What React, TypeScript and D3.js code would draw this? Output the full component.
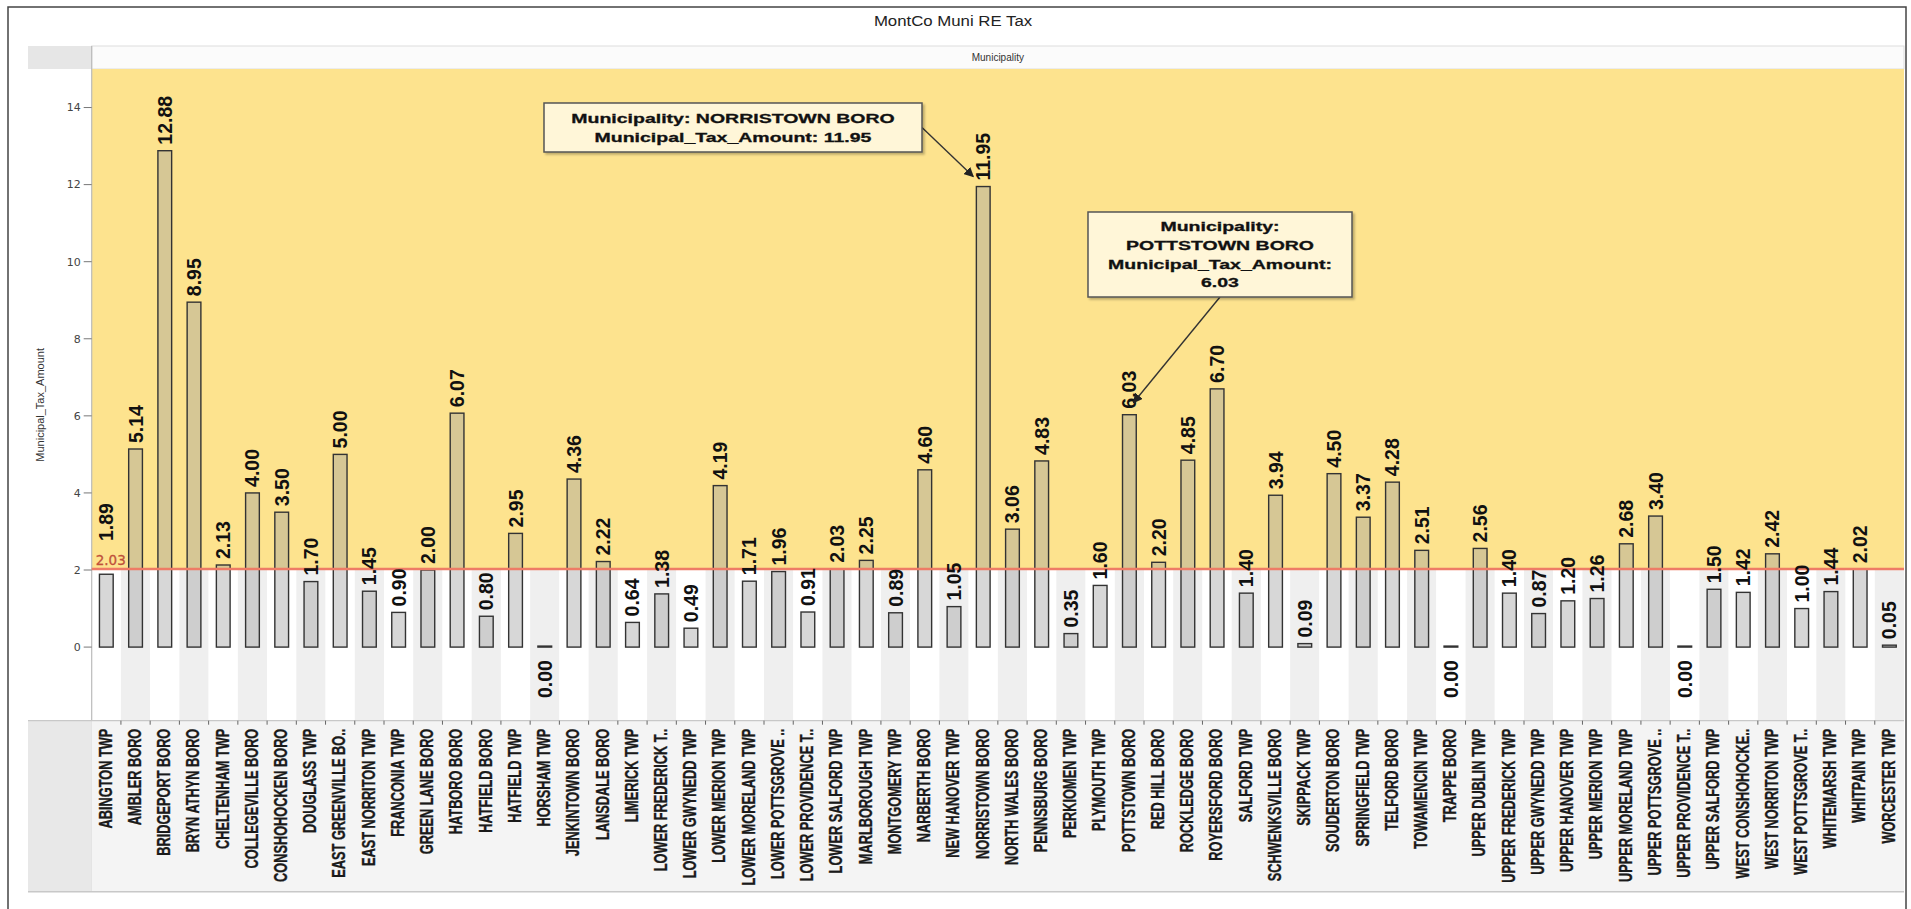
import React from "react";
import * as d3 from "d3";

const municipalities: string[] = [
  "ABINGTON TWP", "AMBLER BORO", "BRIDGEPORT BORO", "BRYN ATHYN BORO", "CHELTENHAM TWP",
  "COLLEGEVILLE BORO", "CONSHOHOCKEN BORO", "DOUGLASS TWP", "EAST GREENVILLE BO..", "EAST NORRITON TWP",
  "FRANCONIA TWP", "GREEN LANE BORO", "HATBORO BORO", "HATFIELD BORO", "HATFIELD TWP",
  "HORSHAM TWP", "JENKINTOWN BORO", "LANSDALE BORO", "LIMERICK TWP", "LOWER FREDERICK T..",
  "LOWER GWYNEDD TWP", "LOWER MERION TWP", "LOWER MORELAND TWP", "LOWER POTTSGROVE ..", "LOWER PROVIDENCE T..",
  "LOWER SALFORD TWP", "MARLBOROUGH TWP", "MONTGOMERY TWP", "NARBERTH BORO", "NEW HANOVER TWP",
  "NORRISTOWN BORO", "NORTH WALES BORO", "PENNSBURG BORO", "PERKIOMEN TWP", "PLYMOUTH TWP",
  "POTTSTOWN BORO", "RED HILL BORO", "ROCKLEDGE BORO", "ROYERSFORD BORO", "SALFORD TWP",
  "SCHWENKSVILLE BORO", "SKIPPACK TWP", "SOUDERTON BORO", "SPRINGFIELD TWP", "TELFORD BORO",
  "TOWAMENCIN TWP", "TRAPPE BORO", "UPPER DUBLIN TWP", "UPPER FREDERICK TWP", "UPPER GWYNEDD TWP",
  "UPPER HANOVER TWP", "UPPER MERION TWP", "UPPER MORELAND TWP", "UPPER POTTSGROVE ..", "UPPER PROVIDENCE T..",
  "UPPER SALFORD TWP", "WEST CONSHOHOCKE..", "WEST NORRITON TWP", "WEST POTTSGROVE T..", "WHITEMARSH TWP",
  "WHITPAIN TWP", "WORCESTER TWP",
];

const taxAmounts: number[] = [
  1.89, 5.14, 12.88, 8.95, 2.13,
  4.0, 3.5, 1.7, 5.0, 1.45,
  0.9, 2.0, 6.07, 0.8, 2.95,
  0.0, 4.36, 2.22, 0.64, 1.38,
  0.49, 4.19, 1.71, 1.96, 0.91,
  2.03, 2.25, 0.89, 4.6, 1.05,
  11.95, 3.06, 4.83, 0.35, 1.6,
  6.03, 2.2, 4.85, 6.7, 1.4,
  3.94, 0.09, 4.5, 3.37, 4.28,
  2.51, 0.0, 2.56, 1.4, 0.87,
  1.2, 1.26, 2.68, 3.4, 0.0,
  1.5, 1.42, 2.42, 1.0, 1.44,
  2.02, 0.05,
];

const yTicks: number[] = [0, 2, 4, 6, 8, 10, 12, 14];
const chartTitle = "MontCo Muni RE Tax";
const panelTitle = "Municipality";
const yAxisTitle = "Municipal_Tax_Amount";
const highlighted: string[] = ["NORRISTOWN BORO", "POTTSTOWN BORO"];

const W = 1911;
const H = 909;
const plotL = 91.7;
const plotR = 1904;
const plotT = 69;
const plotB = 720.7;
const headerT = 46;
const panelB = 891.7;
const leftCol = 28;

const YELLOW = "#FDE38E";

export default function App() {
  const data = municipalities.map((name, i) => ({ name, value: taxAmounts[i] }));
  const x = d3.scaleBand<string>().domain(municipalities).range([plotL, plotR]).paddingInner(0.53).paddingOuter(0.265);
  const slot = d3.scaleBand<string>().domain(municipalities).range([plotL, plotR]).padding(0);
  const y = d3.scaleLinear().domain([-1.91, 15]).range([plotB, plotT]);
  const med = d3.median(taxAmounts) as number;
  const medLabel = (Math.round(med * 100 + 1e-9) / 100).toFixed(2);
  const yMed = y(med);
  const y0 = y(0);
  const cx = (n: string) => (x(n) as number) + x.bandwidth() / 2;

  const medLabelX = plotL + 4;
  const medLabelTop = yMed - 16;
  const medLabelRight = medLabelX + 34;

  const callouts = [
    {
      name: highlighted[0],
      lines: (v: number) => [`Municipality: ${highlighted[0]}`, `Municipal_Tax_Amount: ${v.toFixed(2)}`],
      box: { x: 544, y: 103, w: 378, h: 49 },
      anchor: "right",
      tdx: -10,
      tdy: -10,
    },
    {
      name: highlighted[1],
      lines: (v: number) => ["Municipality:", highlighted[1], "Municipal_Tax_Amount:", v.toFixed(2)],
      box: { x: 1088, y: 212, w: 264, h: 85 },
      anchor: "bottom",
      tdx: 4,
      tdy: -12,
    },
  ];

  return (
    <svg
      width={W}
      height={H}
      style={{ position: "absolute", left: 0, top: 0, background: "#fff" }}
      fontFamily="'Liberation Sans', Arial, sans-serif"
    >
      <defs>
        <marker id="arr" viewBox="0 0 10 10" refX="9" refY="5" markerWidth="7" markerHeight="7" orient="auto-start-reverse">
          <path d="M0,0 L10,5 L0,10 z" fill="#222" />
        </marker>
        <filter id="shadow" x="-5%" y="-5%" width="115%" height="125%">
          <feDropShadow dx="2" dy="2" stdDeviation="1.2" floodColor="#000" floodOpacity="0.25" />
        </filter>
      </defs>

      <text x={953} y={26} textAnchor="middle" fontSize={15} fill="#222" transform="translate(953,0) scale(1.12,1) translate(-953,0)">
        {chartTitle}
      </text>

      <rect x={leftCol} y={headerT} width={plotL - leftCol} height={plotT - headerT} fill="#E6E6E6" />
      <rect x={plotL} y={headerT} width={plotR - plotL} height={plotT - headerT} fill="#FBFBFB" stroke="#DDD" strokeWidth={1} />
      <text x={(plotL + plotR) / 2} y={61} textAnchor="middle" fontSize={10} fill="#333">
        {panelTitle}
      </text>

      {data.map((d, i) => (
        <rect
          key={"s" + i}
          x={slot(d.name) as number}
          y={yMed}
          width={slot.bandwidth()}
          height={plotB - yMed}
          fill={i % 2 === 1 ? "#EFEFEF" : "#FFFFFF"}
        />
      ))}
      <rect x={plotL} y={plotT} width={plotR - plotL} height={yMed - plotT} fill={YELLOW} />

      <line x1={plotL} x2={plotL} y1={headerT} y2={panelB} stroke="#BBB" strokeWidth={1.2} />
      {yTicks.map((t) => (
        <g key={"t" + t}>
          <line x1={plotL - 8} x2={plotL} y1={y(t)} y2={y(t)} stroke="#777" strokeWidth={1} />
          <text x={plotL - 11} y={y(t)} dy="0.35em" textAnchor="end" fontSize={11} fill="#444" fontFamily="'DejaVu Sans', sans-serif">
            {t}
          </text>
        </g>
      ))}
      <text
        transform={`translate(44,${(plotT + plotB) / 2 + 10}) rotate(-90)`}
        textAnchor="middle"
        fontSize={11}
        fill="#333"
      >
        {yAxisTitle}
      </text>

      {data.map((d) => (
        <rect
          key={"b" + d.name}
          x={x(d.name) as number}
          y={y(Math.max(d.value, 0)) - (d.value === 0 ? 1 : 0)}
          width={x.bandwidth()}
          height={Math.max(y0 - y(d.value), 1)}
          fill="#A0A0A0"
          fillOpacity={0.42}
          stroke="#333"
          strokeWidth={1.4}
        />
      ))}

      <line x1={plotL} x2={plotR} y1={yMed} y2={yMed} stroke="#EE7B66" strokeWidth={2.5} />
      <text x={medLabelX} y={yMed - 4} fontSize={13.5} fill="#C0503A" fontFamily="'DejaVu Sans', sans-serif" stroke="#C0503A" strokeWidth={0.3}>
        {medLabel}
      </text>

      {data.map((d) => {
        const c = cx(d.name);
        if (d.value === 0) {
          return (
            <text
              key={"v" + d.name}
              transform={`translate(${c},${y0 + 13}) rotate(-90)`}
              textAnchor="end"
              dy="0.36em"
              fontSize={19.5}
              fontWeight="bold"
              fill="#111"
            >
              {d.value.toFixed(2)}
            </text>
          );
        }
        let base = y(d.value) - 6;
        const xl = c - 8;
        const xr = c + 8;
        if (xr > medLabelX && xl < medLabelRight && base > medLabelTop - 2) {
          base = medLabelTop - 12;
        }
        return (
          <text
            key={"v" + d.name}
            transform={`translate(${c},${base}) rotate(-90)`}
            textAnchor="start"
            dy="0.36em"
            fontSize={19.5}
            fontWeight="bold"
            fill="#111"
          >
            {d.value.toFixed(2)}
          </text>
        );
      })}

      <rect x={leftCol} y={plotB} width={plotL - leftCol} height={panelB - plotB} fill="#E8E8E8" />
      <rect x={plotL} y={plotB} width={plotR - plotL} height={panelB - plotB} fill="#F4F4F4" />
      <line x1={leftCol} x2={plotR} y1={plotB} y2={plotB} stroke="#C8C8C8" strokeWidth={1.2} />
      <line x1={leftCol} x2={plotR} y1={panelB} y2={panelB} stroke="#C8C8C8" strokeWidth={1.5} />
      {data.map((d, i) =>
        i === 0 ? null : (
          <line
            key={"k" + i}
            x1={slot(d.name) as number}
            x2={slot(d.name) as number}
            y1={plotB}
            y2={plotB + 4}
            stroke="#666"
            strokeWidth={1}
          />
        )
      )}
      {data.map((d) => (
        <text
          key={"c" + d.name}
          transform={`translate(${cx(d.name) - 1},${plotB + 8}) rotate(-90) scale(0.73,1)`}
          textAnchor="end"
          dy="0.36em"
          fontSize={17.5}
          fontWeight="bold"
          fill="#1a1a1a"
          stroke="#1a1a1a"
          strokeWidth={0.35}
        >
          {d.name}
        </text>
      ))}

      {callouts.map((co) => {
        const d = data.find((e) => e.name === co.name)!;
        const lines = co.lines(d.value);
        const bx = co.box;
        const tx = cx(d.name) + co.tdx;
        const ty = y(d.value) + co.tdy;
        const sx = co.anchor === "right" ? bx.x + bx.w : bx.x + bx.w / 2;
        const sy = co.anchor === "right" ? bx.y + bx.h / 2 : bx.y + bx.h;
        const lh = 18.7;
        const mid = bx.x + bx.w / 2;
        const firstY = bx.y + bx.h / 2 - ((lines.length - 1) * lh) / 2;
        return (
          <g key={"co" + co.name}>
            <line x1={sx} y1={sy} x2={tx} y2={ty} stroke="#333" strokeWidth={1.4} markerEnd="url(#arr)" />
            <rect x={bx.x} y={bx.y} width={bx.w} height={bx.h} fill="#FFF6D8" stroke="#555" strokeWidth={1.5} filter="url(#shadow)" />
            {lines.map((ln, j) => (
              <text
                key={j}
                transform={`translate(${mid},${firstY + j * lh}) scale(1.5,1)`}
                textAnchor="middle"
                dy="0.36em"
                fontSize={13}
                fontWeight="bold"
                fill="#111"
                stroke="#111"
                strokeWidth={0.3}
              >
                {ln}
              </text>
            ))}
          </g>
        );
      })}

      <rect x={8} y={7} width={1898} height={903} fill="none" stroke="#444" strokeWidth={1.5} />
    </svg>
  );
}
